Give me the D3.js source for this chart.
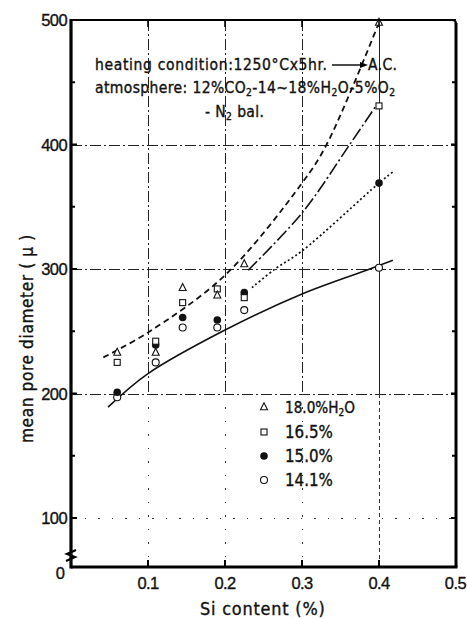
<!DOCTYPE html>
<html><head><meta charset="utf-8">
<script src="https://cdn.jsdelivr.net/npm/d3@7"></script>
<style>
body{margin:0;background:#fff;}
text{font-family:"DejaVu Sans Condensed","Liberation Sans Narrow","Liberation Sans",Arial,sans-serif;fill:#111;stroke:#111;stroke-width:0.35;}
.num{font-family:"Liberation Sans",Arial,sans-serif;}
</style></head>
<body>
<svg id="c" width="467" height="619"></svg>
<script>
// ---- data ----
const xTicks = [0.1, 0.2, 0.3, 0.4, 0.5];
const yTicks = [100, 200, 300, 400, 500];
const yMinor = [150, 250, 350, 450];
const seriesNames = ["18.0%", "16.5%", "15.0%", "14.1%"];
const pts180 = [[0.06,233],[0.11,233],[0.145,285],[0.19,279],[0.225,304],[0.4,498]];
const pts165 = [[0.06,225],[0.11,242],[0.145,273],[0.19,284],[0.225,277],[0.4,431]];
const pts150 = [[0.06,201],[0.11,239],[0.145,261],[0.19,259],[0.225,281],[0.4,369]];
const pts141 = [[0.06,197],[0.11,225],[0.145,253],[0.19,253],[0.225,267],[0.4,301]];
const curve180 = [[0.042,229],[0.1,249],[0.2,295],[0.3,369],[0.332,400],[0.4,498]];
const curve165 = [[0.23,299],[0.3,345],[0.362,400],[0.395,430]];
const curve150 = [[0.235,285],[0.265,300],[0.3,314.5],[0.4,369],[0.418,378]];
const curve141 = [[0.048,189],[0.1,216],[0.2,251],[0.3,280],[0.388,300],[0.418,307]];

const svg = d3.select("#c");
const x = d3.scaleLinear().domain([0, 0.5]).range([71, 456]);
const y = d3.scaleLinear().domain([100, 500]).range([518, 20]);
const yBottom = 567;

function fit(t, w){
  const fs = parseFloat(t.attr("font-size"));
  const cw = t.node().getComputedTextLength();
  if(cw>0) t.attr("font-size", fs*w/cw);
  t.selectAll("tspan[data-sub]").attr("font-size", parseFloat(t.attr("font-size"))*0.66);
  return t;
}
function fitSpacing(t, w){
  const cw = t.node().getComputedTextLength();
  const n = t.node().getNumberOfChars();
  if(cw>0 && n>1) t.attr("letter-spacing", (w-cw)/(n-1));
  return t;
}

// ---- grid ----
const g = svg.append("g").attr("shape-rendering","crispEdges");
[200,300,400].forEach(v=>{
  g.append("line").attr("x1",x(0)).attr("x2",x(0.5)).attr("y1",Math.round(y(v))+0.5).attr("y2",Math.round(y(v))+0.5)
   .attr("stroke","#222").attr("stroke-width",1).attr("stroke-dasharray","11,3,2,3");
});
g.append("line").attr("x1",x(0)).attr("x2",x(0.5)).attr("y1",y(100)).attr("y2",y(100))
   .attr("stroke","#333").attr("stroke-width",1).attr("stroke-dasharray","1.5,12");
[0.1,0.2,0.3,0.4].forEach(v=>{
  const xp = Math.round(x(v))+0.5;
  g.append("line").attr("x1",xp).attr("x2",xp).attr("y1",y(500)).attr("y2",y(200))
   .attr("stroke","#222").attr("stroke-width",1)
   .attr("stroke-dasharray", v===0.4 ? null : "11,3,2,3");
  g.append("line").attr("x1",xp).attr("x2",xp).attr("y1",y(200)).attr("y2",yBottom)
   .attr("stroke","#333").attr("stroke-width",1).attr("stroke-dasharray", v===0.4 ? "4,3" : "1.5,12");
});

// ---- curves ----
const line = d3.line().x(d=>x(d[0])).y(d=>y(d[1])).curve(d3.curveCatmullRom.alpha(0.5));
const styles = [
  {data:curve180, dash:"6,4", w:1.8},
  {data:curve165, dash:"13,3,2,3", w:1.6},
  {data:curve150, dash:"2,2.5", w:1.7},
  {data:curve141, dash:null, w:1.6}
];
styles.forEach(s=>{
  svg.append("path").attr("d", line(s.data)).attr("fill","none")
    .attr("stroke","#111").attr("stroke-width", s.w)
    .attr("stroke-dasharray", s.dash);
});

// ---- markers ----
function marker(sel, type, cx, cy){
  if(type===0){
    const s=7;
    sel.append("path").attr("d",`M${cx},${cy-s*0.6}L${cx+s*0.5},${cy+s*0.4}L${cx-s*0.5},${cy+s*0.4}Z`)
      .attr("fill","#fff").attr("stroke","#111").attr("stroke-width",1.1);
  } else if(type===1){
    sel.append("rect").attr("x",cx-3).attr("y",cy-3).attr("width",6).attr("height",6)
      .attr("fill","#fff").attr("stroke","#111").attr("stroke-width",1.1);
  } else if(type===2){
    sel.append("circle").attr("cx",cx).attr("cy",cy).attr("r",3.8).attr("fill","#111");
  } else {
    sel.append("circle").attr("cx",cx).attr("cy",cy).attr("r",3.5)
      .attr("fill","#fff").attr("stroke","#111").attr("stroke-width",1.1);
  }
}
const mg = svg.append("g");
[pts141, pts150, pts165, pts180].forEach((arr,i)=>{
  const type = 3-i;
  arr.forEach(d=>marker(mg, type, x(d[0]), y(d[1])));
});

// ---- frame ----
const fr = svg.append("g").attr("fill","none").attr("stroke","#000");
fr.append("path").attr("d",`M${x(0)},${y(500)}L${x(0.5)-4},${y(500)}Q${x(0.5)},${y(500)} ${x(0.5)},${y(500)+4}`).attr("stroke-width",2.2);
fr.append("line").attr("x1",x(0.5)).attr("x2",x(0.5)).attr("y1",y(500)+3).attr("y2",yBottom).attr("stroke-width",3);
fr.append("line").attr("x1",x(0)).attr("x2",x(0.5)+1.5).attr("y1",yBottom).attr("y2",yBottom).attr("stroke-width",3.2);
fr.append("line").attr("x1",x(0)).attr("x2",x(0)).attr("y1",y(500)-1).attr("y2",yBottom+1.5).attr("stroke-width",3.2);

// break symbol
svg.append("path").attr("d",`M${x(0)-5},${yBottom-6}L${x(0)+4},${yBottom-10}L${x(0)-4},${yBottom-13}L${x(0)+5},${yBottom-17}`)
  .attr("fill","none").attr("stroke","#000").attr("stroke-width",2.2);

// ticks
yTicks.forEach(v=>{
  svg.append("line").attr("x1",x(0)).attr("x2",x(0)+6).attr("y1",y(v)).attr("y2",y(v)).attr("stroke","#000").attr("stroke-width",2);
  svg.append("line").attr("x1",x(0.5)).attr("x2",x(0.5)-5).attr("y1",y(v)).attr("y2",y(v)).attr("stroke","#000").attr("stroke-width",2);
});
yMinor.forEach(v=>{
  svg.append("line").attr("x1",x(0)).attr("x2",x(0)+4).attr("y1",y(v)).attr("y2",y(v)).attr("stroke","#000").attr("stroke-width",2);
  svg.append("line").attr("x1",x(0.5)).attr("x2",x(0.5)-4).attr("y1",y(v)).attr("y2",y(v)).attr("stroke","#000").attr("stroke-width",2);
});
xTicks.filter(v=>v<0.5).forEach(v=>{
  svg.append("line").attr("x1",x(v)).attr("x2",x(v)).attr("y1",yBottom).attr("y2",yBottom-7).attr("stroke","#000").attr("stroke-width",2);
  svg.append("line").attr("x1",x(v)).attr("x2",x(v)).attr("y1",y(500)).attr("y2",y(500)+7).attr("stroke","#000").attr("stroke-width",1.6);
});

// tick labels
yTicks.forEach(v=>{
  svg.append("text").attr("class","num").attr("x",x(0)-4).attr("y",y(v)+6).attr("text-anchor","end")
    .attr("font-size",16.5).attr("letter-spacing",-0.6).text(v);
});
svg.append("text").attr("class","num").attr("x",x(0)-6).attr("y",yBottom+12).attr("text-anchor","end")
  .attr("font-size",16.5).text("0");
xTicks.forEach(v=>{
  const t = svg.append("text").attr("class","num").attr("y",589)
    .attr("font-size",16.5).attr("letter-spacing",-0.6).text(v);
  if(v===0.5) t.attr("x",466).attr("text-anchor","end");
  else t.attr("x",x(v)).attr("text-anchor","middle");
});

// axis titles
const xl = svg.append("text").attr("x",200).attr("y",615)
  .attr("font-size",16).attr("letter-spacing",0.8).text("Si content (%)");
fit(xl,127);
const yl = svg.append("text").attr("transform","translate(33,443) rotate(-90)")
  .attr("font-size",16).attr("letter-spacing",0.6).text("mean pore diameter ( μ )");
fit(yl,210);

// annotation
const AFS = 15.5;
const a1 = svg.append("text").attr("x",95).attr("y",70).attr("font-size",AFS)
  .text("heating condition:1250°Cx5hr.");
fitSpacing(a1,232);
svg.append("line").attr("x1",332).attr("x2",362).attr("y1",65).attr("y2",65).attr("stroke","#000").attr("stroke-width",1.4);
svg.append("path").attr("d","M368,65L360,62L360,68Z").attr("fill","#000");
const a1b = svg.append("text").attr("x",368).attr("y",70).attr("font-size",AFS).text("A.C.");
fitSpacing(a1b,29);
const t2 = svg.append("text").attr("x",95).attr("y",93).attr("font-size",AFS);
t2.append("tspan").text("atmosphere: 12%CO");
t2.append("tspan").attr("font-size",AFS*0.66).attr("dy",3).text("2");
t2.append("tspan").attr("dy",-3).text("-14~18%H");
t2.append("tspan").attr("font-size",AFS*0.66).attr("dy",3).text("2");
t2.append("tspan").attr("dy",-3).text("O-5%O");
t2.append("tspan").attr("font-size",AFS*0.66).attr("dy",3).text("2");
fitSpacing(t2,300);
const t3 = svg.append("text").attr("x",205).attr("y",117).attr("font-size",AFS);
t3.append("tspan").text("- N");
t3.append("tspan").attr("font-size",AFS*0.66).attr("dy",3).text("2");
t3.append("tspan").attr("dy",-3).text(" bal.");
t3.attr("letter-spacing", t2.attr("letter-spacing"));

// legend
const legY = [408, 433, 457, 481];
seriesNames.forEach((name,i)=>{
  marker(svg, i, 264, legY[i]-1);
  const t = svg.append("text").attr("x",285).attr("y",legY[i]+5).attr("font-size",15);
  if(i===0){
    t.append("tspan").text(name+"H");
    t.append("tspan").attr("data-sub",1).attr("font-size",10).attr("dy",3).text("2");
    t.append("tspan").attr("dy",-3).text("O");
    fit(t,70);
  } else { t.text(name); fit(t,48); }
});
</script>
</body></html>
